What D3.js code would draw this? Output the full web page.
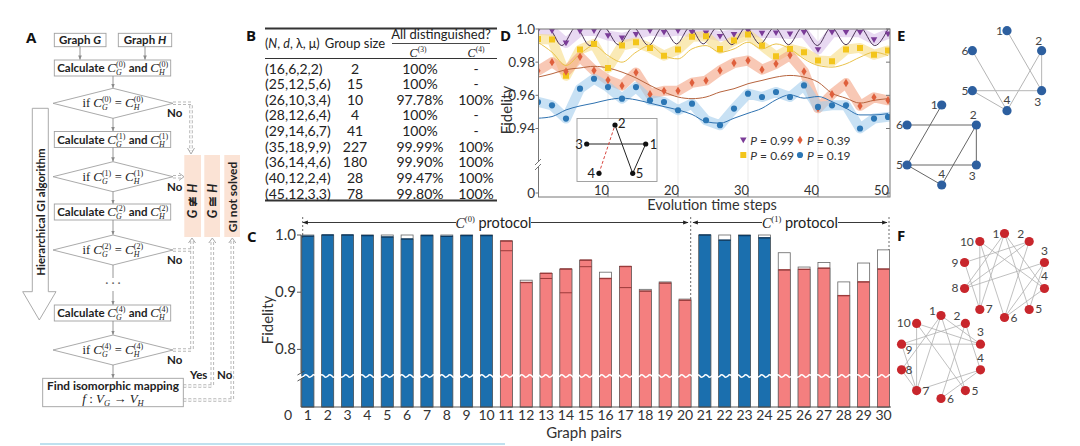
<!DOCTYPE html>
<html><head><meta charset="utf-8">
<script src="https://cdn.jsdelivr.net/npm/d3@7"></script>
<style>
html,body{margin:0;padding:0;background:#fff;}
svg{display:block;}
</style></head><body>
<svg id="fig" width="1080" height="446"></svg>
<script>
// ================= DATA =================
// Panel B table
const tableParams = ["(16,6,2,2)","(25,12,5,6)","(26,10,3,4)","(28,12,6,4)","(29,14,6,7)","(35,18,9,9)","(36,14,4,6)","(40,12,2,4)","(45,12,3,3)"];
const tableGroupSize = ["2","15","10","4","41","227","180","28","78"];
const tableC3 = ["100%","100%","97.78%","100%","100%","99.99%","99.90%","99.47%","99.80%"];
const tableC4 = ["-","-","100%","-","-","100%","100%","100%","100%"];

// Panel C bars
const graphPairs = [1,2,3,4,5,6,7,8,9,10,11,12,13,14,15,16,17,18,19,20,21,22,23,24,25,26,27,28,29,30];
const pairIsomorphic = [1,1,1,1,1,1,1,1,1,1, 0,0,0,0,0,0,0,0,0,0, 1,1,1,1, 0,0,0,0,0,0];
const fidelityExp = [0.998,1.0,1.0,0.999,0.9965,0.993,0.999,0.9977,0.999,0.999,
  0.9895,0.917,0.933,0.9405,0.956,0.924,0.945,0.902,0.916,0.886,
  1.0,0.991,0.999,0.995, 0.939,0.940,0.942,0.894,0.918,0.9405];
const fidelityTheory = [1.0,1.0,1.0,1.0,1.0,1.0,1.0,1.0,1.0,1.0,
  0.9725,0.921,0.924,0.899,0.9446,0.935,0.908,0.905,0.918,0.888,
  1.0,1.0,1.0,1.0, 0.969,0.944,0.952,0.918,0.951,0.974];
const xTickLabelsC = [0,1,2,3,4,5,6,7,8,9,10,11,12,13,14,15,16,17,18,19,20,21,22,23,24,25,26,27,28,29,30];
const yTicksC = [0.8, 0.9, 1.0];

// Panel D
const timeSteps = [0,2,4,6,8,10,12,14,16,18,20,22,24,26,28,30,32,34,36,38,40,42,44,46,48,50];
const fidP99 = [0.9995,0.999,0.9916,0.9987,0.999,0.996,0.9947,0.9967,0.999,0.998,0.999,0.998,0.9977,0.9956,0.9967,0.999,0.9975,0.9977,0.997,0.998,0.9876,0.998,0.998,0.998,0.9936,0.997];
const fidP69 = [0.994,0.9936,0.9718,0.9876,0.991,0.9765,0.990,0.992,0.9886,0.9839,0.9876,0.9953,0.9956,0.988,0.993,0.9967,0.990,0.9835,0.988,0.986,0.981,0.9805,0.9876,0.9886,0.9845,0.987];
const fidP39 = [0.9748,0.980,0.9744,0.9832,0.975,0.9692,0.9658,0.9738,0.9607,0.9627,0.9627,0.9676,0.9689,0.975,0.9795,0.981,0.9755,0.979,0.9842,0.9744,0.9522,0.9607,0.9674,0.9536,0.9588,0.957];
const fidP19 = [0.956,0.954,0.946,0.964,0.970,0.965,0.958,0.965,0.957,0.956,0.951,0.955,0.945,0.942,0.952,0.961,0.959,0.962,0.959,0.966,0.953,0.954,0.954,0.940,0.946,0.947];
const theoryP99T = [0,1.4,3.4,5.4,7.4,9.4,11.5,13.6,15.8,17.8,19.8,21.7,23.6,25.6,27.7,29.7,31.7,33.8,35.8,37.8,39.9,41.9,44.0,46.0,48.1,50];
const theoryP99V = [1.001,1.001,0.990,1.001,0.990,1.001,0.9905,1.001,0.990,1.001,0.991,1.001,0.991,1.001,0.9905,1.001,0.991,1.001,0.9905,1.001,0.990,1.001,0.9905,1.001,0.990,1.0];
const theoryP69 = [0.992,0.986,0.978,0.985,0.990,0.984,0.980,0.986,0.990,0.984,0.982,0.988,0.990,0.986,0.988,0.992,0.988,0.991,0.988,0.982,0.978,0.977,0.979,0.983,0.986,0.984];
const theoryP39 = [0.971,0.973,0.9755,0.9765,0.9775,0.9765,0.974,0.9705,0.966,0.962,0.959,0.958,0.959,0.962,0.964,0.967,0.969,0.971,0.972,0.971,0.968,0.9613,0.9583,0.9553,0.957,0.958];
const theoryP19 = [0.9462,0.9472,0.9512,0.9536,0.9553,0.9573,0.9583,0.9573,0.9553,0.9532,0.9512,0.9485,0.9441,0.9432,0.9462,0.9492,0.9522,0.9573,0.9603,0.9583,0.9593,0.9562,0.9522,0.9482,0.9482,0.949];
const yTicksD = [0, 0.94, 0.96, 0.98, 1.0];
const xTicksD = [10, 20, 30, 40, 50];
const legendD = ["P = 0.99","P = 0.39","P = 0.69","P = 0.19"];

// Panels E / F graphs (node labels 1..n, edges)
const graphE1Edges = [[1,3],[6,4],[2,3],[2,4],[5,3],[5,4]];
const graphE2Edges = [[1,5],[6,2],[2,3],[2,4],[5,3],[5,4]];
const graphF1Edges = [[1,7],[1,8],[1,4],[1,5],[10,7],[10,6],[10,4],[2,8],[2,6],[2,9],[8,3],[3,6],[4,6],[9,7],[5,3]];
const graphF2Edges = [[1,7],[1,8],[1,3],[1,5],[10,7],[10,5],[2,9],[2,6],[9,3],[3,10],[4,7],[4,6],[8,7],[9,7],[2,4]];

// ================= HELPERS =================
const svg = d3.select('#fig');
const SANS = 'Lato, "Open Sans", sans-serif';
const SERIF = '"Liberation Serif", "DejaVu Serif", serif';
const defs = svg.append('defs');
defs.append('marker').attr('id','ahg').attr('viewBox','0 0 10 10').attr('refX',9).attr('refY',5)
  .attr('markerWidth',5).attr('markerHeight',5).attr('orient','auto')
  .append('path').attr('d','M0,1 L10,5 L0,9 Z').attr('fill','#8a8a8a');
defs.append('marker').attr('id','ahk').attr('viewBox','0 0 10 10').attr('refX',9).attr('refY',5)
  .attr('markerWidth',6).attr('markerHeight',6).attr('orient','auto-start-reverse')
  .append('path').attr('d','M0,1.5 L10,5 L0,8.5 Z').attr('fill','#222');

function rich(parent, x, y, segs, opt={}) {
  const g = parent.append('g');
  let cx = 0;
  const put = (p, px) => {
    const t = g.append('text').attr('x', px).attr('y', p.dy || 0)
      .attr('font-family', p.serif ? SERIF : SANS)
      .attr('font-size', p.size || opt.size || 12)
      .attr('font-weight', (p.bold ?? opt.bold) ? 'bold' : 'normal')
      .attr('font-style', p.it ? 'italic' : 'normal')
      .attr('fill', p.fill || opt.fill || '#222')
      .text(p.t.replace(/ /g, '\u00a0'));
    return t.node().getComputedTextLength();
  };
  segs.forEach(s => {
    if (s.stack) { let w = 0; s.stack.forEach(p => { w = Math.max(w, put(p, cx)); }); cx += w + (s.pad || 0); }
    else cx += put(s, cx);
  });
  const a = opt.anchor || 'start';
  const off = a === 'middle' ? -cx/2 : a === 'end' ? -cx : 0;
  g.attr('transform', `translate(${x},${y}) rotate(${opt.rotate||0}) translate(${off},0)`);
  return g;
}
function Cm(sub, k, big=13, small=8) {
  return [{t:'C', serif:true, it:true, size:big, bold:false},
          {stack:[{t:'('+k+')', serif:true, size:small, dy:-5, bold:false},
                  {t:sub, serif:true, it:true, size:small, dy:3, bold:false}], pad:0.5}];
}
function label(x, y, t) {
  svg.append('text').attr('x',x).attr('y',y).attr('font-family','"Open Sans", sans-serif')
    .attr('font-weight','bold').attr('font-size',15).attr('fill','#111').text(t);
}

// ================= PANEL A =================
const gA = svg.append('g');
const fcS = '#a0a0a0';
const rbox = (x,y,w,h) => gA.append('rect').attr('x',x).attr('y',y).attr('width',w).attr('height',h)
  .attr('fill','#fff').attr('stroke',fcS).attr('stroke-width',0.9);
const arr = (x1,y1,x2,y2) => gA.append('line').attr('x1',x1).attr('y1',y1).attr('x2',x2).attr('y2',y2)
  .attr('stroke','#8a8a8a').attr('stroke-width',0.9).attr('marker-end','url(#ahg)');
const dia = (cx,cy,hw,hh) => gA.append('polygon')
  .attr('points',`${cx-hw},${cy} ${cx},${cy-hh} ${cx+hw},${cy} ${cx},${cy+hh}`)
  .attr('fill','#fff').attr('stroke',fcS).attr('stroke-width',0.9);

// hierarchical hollow arrow
gA.append('polygon').attr('points','32.3,108.3 48.3,108.3 48.3,291.7 56,291.7 39.3,320 22.7,291.7 32.3,291.7')
  .attr('fill','#fff').attr('stroke',fcS).attr('stroke-width',0.9);
rich(gA, 44.5, 212, [{t:'Hierarchical GI algorithm'}], {anchor:'middle', rotate:-90, size:11.5, bold:true});

// peach result boxes
[[184.3,16.7],[204.3,15.7],[224.3,15.7]].forEach(([x,w]) =>
  gA.append('rect').attr('x',x).attr('y',155).attr('width',w).attr('height',82).attr('fill','#fbe3d5'));

// dashed double connectors
const conn = ['M173,103.3H191V151','M173,176.7H182','M173,250H192V240','M173,350H192V250',
              'M183.3,386H212.3V240','M183.3,400H232.3V240'];
conn.forEach(d => {
  gA.append('path').attr('d',d).attr('fill','none').attr('stroke','#b8b8b8').attr('stroke-width',3.6).attr('stroke-dasharray','3,2');
  gA.append('path').attr('d',d).attr('fill','none').attr('stroke','#fff').attr('stroke-width',1.6).attr('stroke-dasharray','3,2');
});
['M187.5,148L191,154L194.5,148','M179,173L184,176.7L179,180.4','M188.5,243L192,238L195.5,243',
 'M208.8,243L212.3,238L215.8,243','M228.8,243L232.3,238L235.8,243'].forEach(d =>
  gA.append('path').attr('d',d).attr('fill','none').attr('stroke','#aaa').attr('stroke-width',1));

rich(gA, 197, 201, [{t:'G',it:true},{t:' ≇ '},{t:'H',it:true}], {anchor:'middle', rotate:-90, size:12.5, bold:true});
rich(gA, 216.5, 201, [{t:'G',it:true},{t:' ≅ '},{t:'H',it:true}], {anchor:'middle', rotate:-90, size:12.5, bold:true});
rich(gA, 236.5, 197, [{t:'GI not solved'}], {anchor:'middle', rotate:-90, size:12, bold:true});

// graph boxes
rbox(54.3,33.3,51.7,13.4); rbox(118.3,33.3,53.4,13.4);
rich(gA, 80, 44.2, [{t:'Graph '},{t:'G',it:true}], {anchor:'middle', size:11.5, bold:true});
rich(gA, 145, 44.2, [{t:'Graph '},{t:'H',it:true}], {anchor:'middle', size:11.5, bold:true});
arr(80,46.7,80,59.5); arr(145,46.7,145,59.5);

const calcY = [60, 131.5, 204, 305];
const diaY = [103.3, 176.7, 250, 350];
const levels = [0,1,2,4];
levels.forEach((k,i) => {
  rbox(54.3, calcY[i], 116.4, 16);
  rich(gA, 113, calcY[i]+12, [{t:'Calculate '}, ...Cm('G',k), {t:' and '}, ...Cm('H',k)], {anchor:'middle', size:11.5, bold:true});
  dia(113, diaY[i], 60, 15);
  rich(gA, 113, diaY[i]+4, [{t:'if ', serif:true, size:12.5}, ...Cm('G',k), {t:' = ', serif:true, size:12.5}, ...Cm('H',k)], {anchor:'middle'});
  gA.append('text').attr('x',167).attr('y',diaY[i]+14).attr('font-family',SANS).attr('font-weight','bold')
    .attr('font-size',11.5).attr('fill','#222').text('No');
});
arr(113,76,113,87.8); arr(113,118.3,113,131); arr(113,147.5,113,161.3); arr(113,191.7,113,203.6);
arr(113,220,113,234.6); arr(113,321,113,334.6); arr(113,365,113,377.8);
gA.append('line').attr('x1',113).attr('y1',265).attr('x2',113).attr('y2',278).attr('stroke','#8a8a8a').attr('stroke-width',0.9);
arr(113,291,113,304.6);
gA.append('text').attr('x',113).attr('y',287).attr('text-anchor','middle').attr('font-family',SANS)
  .attr('font-size',12).attr('fill','#666').text('· · ·');
rbox(42.7, 378.3, 140.6, 28.4);
rich(gA, 113, 389.5, [{t:'Find isomorphic mapping'}], {anchor:'middle', size:11.8, bold:true});
rich(gA, 113, 403, [{t:'f',serif:true,it:true,size:13},{t:' : ',serif:true,size:13},{t:'V',serif:true,it:true,size:13},
  {t:'G',serif:true,it:true,size:8.5,dy:3},{t:' → ',serif:true,size:13},{t:'V',serif:true,it:true,size:13},
  {t:'H',serif:true,it:true,size:8.5,dy:3}], {anchor:'middle'});
gA.append('text').attr('x',190).attr('y',379).attr('font-family',SANS).attr('font-weight','bold').attr('font-size',11.5).attr('fill','#222').text('Yes');
gA.append('text').attr('x',217).attr('y',379).attr('font-family',SANS).attr('font-weight','bold').attr('font-size',11.5).attr('fill','#222').text('No');
svg.append('line').attr('x1',40).attr('y1',444).attr('x2',505).attr('y2',444).attr('stroke','#bfe1ef').attr('stroke-width',2);
label(26, 43, 'A');

// ================= PANEL B =================
const gB = svg.append('g');
const tL = 265, tR = 497;
gB.append('line').attr('x1',tL).attr('x2',tR).attr('y1',28.5).attr('y2',28.5).attr('stroke','#333').attr('stroke-width',1.8);
gB.append('line').attr('x1',tL).attr('x2',tR).attr('y1',58.5).attr('y2',58.5).attr('stroke','#333').attr('stroke-width',1);
gB.append('line').attr('x1',tL).attr('x2',tR).attr('y1',200.5).attr('y2',200.5).attr('stroke','#333').attr('stroke-width',1.8);
gB.append('line').attr('x1',392).attr('x2',490).attr('y1',43.5).attr('y2',43.5).attr('stroke','#333').attr('stroke-width',0.9);
rich(gB, tL, 47.5, [{t:'('},{t:'N',it:true},{t:', '},{t:'d',it:true},{t:', λ, μ)'}], {size:12.5});
rich(gB, 355, 47.5, [{t:'Group size'}], {anchor:'middle', size:13});
rich(gB, 441, 39, [{t:'All distinguished?'}], {anchor:'middle', size:13});
rich(gB, 418, 56.5, [{t:'C',serif:true,it:true,size:12},{t:'(3)',serif:true,size:7.5,dy:-5}], {anchor:'middle'});
rich(gB, 476, 56.5, [{t:'C',serif:true,it:true,size:12},{t:'(4)',serif:true,size:7.5,dy:-5}], {anchor:'middle'});
const rowY = d3.scalePoint().domain(tableParams).range([68.5, 193.5]);
const tFont = 14;
tableParams.forEach((p,i) => {
  const y = rowY(p) + 5;
  gB.append('text').attr('x',tL).attr('y',y).attr('font-family',SANS).attr('font-size',tFont).attr('fill','#222').text(p);
  gB.append('text').attr('x',355).attr('y',y).attr('text-anchor','middle').attr('font-family',SANS).attr('font-size',tFont).attr('fill','#222').text(tableGroupSize[i]);
  gB.append('text').attr('x',420).attr('y',y).attr('text-anchor','middle').attr('font-family',SANS).attr('font-size',tFont).attr('fill','#222').text(tableC3[i]);
  gB.append('text').attr('x',476).attr('y',y).attr('text-anchor','middle').attr('font-family',SANS).attr('font-size',tFont).attr('fill','#222').text(tableC4[i]);
});
label(246, 41, 'B');

// ================= PANEL C =================
const gC = svg.append('g');
const xC = d3.scaleLinear().domain([0,30]).range([288, 883.5]);
const yC = d3.scaleLinear().domain([0, 0.75, 1.0]).range([407, 378, 235]);
const bw = 12;
const colFill = d => d ? '#1b6fae' : '#f47f7f';
const colLine = d => d ? '#0b3a63' : '#9c3a3a';
graphPairs.forEach((p,i) => {
  const iso = pairIsomorphic[i], e = fidelityExp[i], th = fidelityTheory[i];
  const x0 = xC(p) - bw/2;
  gC.append('rect').attr('x',x0).attr('y',yC(Math.max(e,th))).attr('width',bw).attr('height',yC(0)-yC(Math.max(e,th)))
    .attr('fill','#fff').attr('stroke','#666').attr('stroke-width',0.8);
  gC.append('rect').attr('x',x0).attr('y',yC(e)).attr('width',bw).attr('height',yC(0)-yC(e))
    .attr('fill',colFill(iso)).attr('stroke','#555').attr('stroke-width',0.6);
  gC.append('line').attr('x1',x0).attr('x2',x0+bw).attr('y1',yC(e)).attr('y2',yC(e)).attr('stroke',colLine(iso)).attr('stroke-width',1.4);
  if (th < e - 0.002) gC.append('line').attr('x1',x0).attr('x2',x0+bw).attr('y1',yC(th)).attr('y2',yC(th)).attr('stroke',colLine(iso)).attr('stroke-width',1);
});
// break wave across bars
{
  let d = 'M300,376';
  for (let x = 300; x < 892; x += 4) d += ` Q${x+1},${x%8===0?373.5:378.5} ${x+4},376`;
  gC.append('path').attr('d',d).attr('fill','none').attr('stroke','#fff').attr('stroke-width',1.6);
}
// axes
gC.append('line').attr('x1',301).attr('x2',301).attr('y1',235).attr('y2',372.5).attr('stroke','#444').attr('stroke-width',0.9);
gC.append('line').attr('x1',301).attr('x2',301).attr('y1',379.5).attr('y2',407).attr('stroke','#444').attr('stroke-width',0.9);
gC.append('path').attr('d','M297.5,375 L304.5,371 M297.5,381 L304.5,377').attr('stroke','#444').attr('stroke-width',0.9);
gC.append('line').attr('x1',301).attr('x2',891).attr('y1',407).attr('y2',407).attr('stroke','#444').attr('stroke-width',0.9);
yTicksC.forEach(v => {
  gC.append('line').attr('x1',297).attr('x2',301).attr('y1',yC(v)).attr('y2',yC(v)).attr('stroke','#444').attr('stroke-width',0.9);
  gC.append('text').attr('x',296).attr('y',yC(v)+5).attr('text-anchor','end').attr('font-family',SANS).attr('font-size',15).attr('fill','#333').text(v.toFixed(1));
});
xTickLabelsC.forEach(v => {
  gC.append('text').attr('x',xC(v)).attr('y',420).attr('text-anchor','middle').attr('font-family',SANS).attr('font-size',14).attr('fill','#333').text(v);
});
gC.append('text').attr('transform','translate(273,320) rotate(-90)').attr('text-anchor','middle').attr('font-family',SANS).attr('font-size',15).attr('fill','#333').text('Fidelity');
gC.append('text').attr('x',584).attr('y',438).attr('text-anchor','middle').attr('font-family',SANS).attr('font-size',15).attr('fill','#333').text('Graph pairs');
// protocol annotations
gC.append('line').attr('x1',303).attr('x2',456).attr('y1',222.5).attr('y2',222.5).attr('stroke','#222').attr('stroke-width',0.9).attr('marker-start','url(#ahk)');
gC.append('line').attr('x1',531).attr('x2',688).attr('y1',222.5).attr('y2',222.5).attr('stroke','#222').attr('stroke-width',0.9).attr('marker-end','url(#ahk)');
rich(gC, 493.5, 227.5, [{t:'C',serif:true,it:true,size:14},{t:'(0)',serif:true,size:8.5,dy:-6},{t:' protocol',size:14.5}], {anchor:'middle'});
gC.append('line').attr('x1',693).attr('x2',762).attr('y1',222.5).attr('y2',222.5).attr('stroke','#222').attr('stroke-width',0.9).attr('marker-start','url(#ahk)');
gC.append('line').attr('x1',838).attr('x2',887).attr('y1',222.5).attr('y2',222.5).attr('stroke','#222').attr('stroke-width',0.9).attr('marker-end','url(#ahk)');
rich(gC, 800, 227.5, [{t:'C',serif:true,it:true,size:14},{t:'(1)',serif:true,size:8.5,dy:-6},{t:' protocol',size:14.5}], {anchor:'middle'});
[[302.7,217,238],[690.7,217,300],[889,217,250]].forEach(([x,a,b]) =>
  gC.append('line').attr('x1',x).attr('x2',x).attr('y1',a).attr('y2',b).attr('stroke','#444').attr('stroke-width',0.8).attr('stroke-dasharray','2,2'));
label(247, 242, 'C');

// ================= PANEL D =================
const gD = svg.append('g');
const xD = d3.scaleLinear().domain([0,50]).range([538, 888]);
const yD = d3.scaleLinear().domain([0, 0.918, 1.0]).range([193, 165, 29]);
const pL = 538.5, pR = 890, pT = 29, pB = 197;
defs.append('clipPath').attr('id','clipD').append('rect').attr('x',pL).attr('y',pT).attr('width',pR-pL).attr('height',pB-pT);
xTicksD.slice(0,4).forEach(t => gD.append('line').attr('x1',xD(t)).attr('x2',xD(t)).attr('y1',pT).attr('y2',pB).attr('stroke','#e3e3e3').attr('stroke-width',0.8));
const gData = gD.append('g').attr('clip-path','url(#clipD)');
const series = [
  {v:fidP99, th:theoryP99V, thT:theoryP99T, band:'#d9bfe9', mk:'#7b3c98', line:'#4b3457', sym:'tri'},
  {v:fidP69, th:theoryP69, thT:timeSteps, band:'#f6dc86', mk:'#f3c51b', line:'#e9c24a', sym:'sq'},
  {v:fidP39, th:theoryP39, thT:timeSteps, band:'#f4a384', mk:'#df5f3c', line:'#b6643e', sym:'dia'},
  {v:fidP19, th:theoryP19, thT:timeSteps, band:'#a3cdec', mk:'#2c77b5', line:'#2f72b0', sym:'circ'}
];
const lineGen = d3.line().x(d => xD(d[0])).y(d => yD(d[1]));
series.forEach(s => {
  gData.append('path').attr('d', lineGen.curve(d3.curveLinear)(timeSteps.map((t,i)=>[t,s.v[i]])))
    .attr('fill','none').attr('stroke',s.band).attr('stroke-width',10).attr('stroke-linejoin','round').attr('stroke-linecap','round').attr('opacity',0.6);
});
series.forEach(s => {
  gData.append('path').attr('d', lineGen.curve(d3.curveMonotoneX)(s.thT.map((t,i)=>[t,s.th[i]])))
    .attr('fill','none').attr('stroke',s.line).attr('stroke-width',1);
});
const symPath = {
  tri: 'M-3.3,-2.4 L3.3,-2.4 L0,3.3 Z',
  sq: 'M-3,-3 H3 V3 H-3 Z',
  dia: 'M0,-4.2 L2.6,0 L0,4.2 L-2.6,0 Z',
  circ: d3.symbol(d3.symbolCircle, 30)()
};
series.forEach(s => {
  timeSteps.forEach((t,i) => gData.append('path').attr('d',symPath[s.sym]).attr('transform',`translate(${xD(t)},${yD(s.v[i])})`).attr('fill',s.mk));
});
// frame
gD.append('rect').attr('x',pL).attr('y',pT).attr('width',pR-pL).attr('height',pB-pT).attr('fill','none').attr('stroke','#777').attr('stroke-width',1);
// break on left axis
gD.append('rect').attr('x',pL-3).attr('y',162).attr('width',6).attr('height',5).attr('fill','#fff');
gD.append('path').attr('d','M535,165 L541,159 M535,170 L541,164').attr('stroke','#666').attr('stroke-width',0.9);
yTicksD.forEach(v => {
  gD.append('line').attr('x1',pL-3).attr('x2',pL).attr('y1',yD(v)).attr('y2',yD(v)).attr('stroke','#777');
  gD.append('line').attr('x1',pR-4).attr('x2',pR).attr('y1',yD(v)).attr('y2',yD(v)).attr('stroke','#777');
  gD.append('text').attr('x',535).attr('y',yD(v)+4.5).attr('text-anchor','end').attr('font-family',SANS).attr('font-size',13.5).attr('fill','#333')
    .text(v === 0 ? '0' : v === 1 ? '1.0' : v.toFixed(2));
});
xTicksD.forEach(t => {
  gD.append('line').attr('x1',xD(t)).attr('x2',xD(t)).attr('y1',pB-4).attr('y2',pB).attr('stroke','#777');
  gD.append('text').attr('x',xD(t)+1).attr('y',194.5).attr('text-anchor','end').attr('font-family',SANS).attr('font-size',13).attr('fill','#333').text(t);
});
gD.append('text').attr('transform','translate(512,110) rotate(-90)').attr('text-anchor','middle').attr('font-family',SANS).attr('font-size',15).attr('fill','#333').text('Fidelity');
gD.append('text').attr('x',712).attr('y',210).attr('text-anchor','middle').attr('font-family',SANS).attr('font-size',14.5).attr('fill','#333').text('Evolution time steps');
// inset
gD.append('rect').attr('x',577).attr('y',118.5).attr('width',80).attr('height',63).attr('fill','#fff').attr('stroke','#999').attr('stroke-width',0.9);
const ins = {1:[645.7,144],2:[615,125],3:[586.7,144],4:[599,173.3],5:[632.7,173.3]};
[[3,1],[2,5],[5,1]].forEach(([a,b]) => gD.append('line').attr('x1',ins[a][0]).attr('y1',ins[a][1]).attr('x2',ins[b][0]).attr('y2',ins[b][1]).attr('stroke','#222').attr('stroke-width',1));
gD.append('line').attr('x1',ins[4][0]).attr('y1',ins[4][1]).attr('x2',ins[2][0]).attr('y2',ins[2][1]).attr('stroke','#d9463f').attr('stroke-width',1).attr('stroke-dasharray','3,2');
Object.entries(ins).forEach(([k,[x,y]]) => gD.append('circle').attr('cx',x).attr('cy',y).attr('r',2.6).attr('fill','#111'));
const insLab = {1:[4,5,'start'],2:[3,3,'start'],3:[-4,5,'end'],4:[-4,5,'end'],5:[3,5,'start']};
Object.entries(insLab).forEach(([k,[dx,dy,a]]) => gD.append('text').attr('x',ins[k][0]+dx).attr('y',ins[k][1]+dy).attr('text-anchor',a)
  .attr('font-family',SANS).attr('font-size',13).attr('fill','#222').text(k));
// legend
const legPos = [[743.3,140],[800,140],[743.3,155],[800,155]];
const legSeries = [series[0], series[2], series[1], series[3]];
legendD.forEach((txt,i) => {
  const [lx,ly] = legPos[i];
  gD.append('path').attr('d',symPath[legSeries[i].sym]).attr('transform',`translate(${lx},${ly})`).attr('fill',legSeries[i].mk);
  const parts = txt.split(' ');
  rich(gD, lx+7, ly+4.5, [{t:parts[0],it:true},{t:' '+parts.slice(1).join(' ')}], {size:12, fill:'#333'});
});
label(500, 41, 'D');

// ================= PANELS E, F =================
function drawGraph(cx, cy, r, n, edges, col, edgeCol, edgeW, labOff) {
  const g = svg.append('g');
  const pos = k => { const a = (-90 + 360/n*(k-1)) * Math.PI/180; return [cx + r*Math.cos(a), cy + r*Math.sin(a)]; };
  edges.forEach(([a,b]) => {
    const [x1,y1] = pos(a), [x2,y2] = pos(b);
    g.append('line').attr('x1',x1).attr('y1',y1).attr('x2',x2).attr('y2',y2).attr('stroke',edgeCol).attr('stroke-width',edgeW);
  });
  for (let k = 1; k <= n; k++) {
    const [x,y] = pos(k);
    g.append('circle').attr('cx',x).attr('cy',y).attr('r',4.6).attr('fill',col);
    const [dx,dy,anc] = labOff[k-1];
    g.append('text').attr('x',x+dx).attr('y',y+dy).attr('text-anchor',anc).attr('font-family',SANS).attr('font-size',12).attr('fill','#444').text(k);
  }
}
const labE = [[-4,4,'end'],[-3,-6,'middle'],[-4,15,'middle'],[0,-7,'middle'],[-4,4,'end'],[-4,4,'end']];
drawGraph(1007, 70.7, 40, 6, graphE1Edges, '#2d5f9f', '#b5b5b5', 1, labE);
drawGraph(941.7, 145, 40, 6, graphE2Edges, '#2d5f9f', '#666', 1, labE);
label(897, 41, 'E');
const labF1 = [[-5,4,'end'],[-5,-4,'end'],[0,-8,'middle'],[0,-8,'middle'],[6,4,'start'],[6,4,'start'],[6,4,'start'],[-6,4,'end'],[-6,4,'end'],[-6,4,'end']];
const labF2 = [[-5,-1,'end'],[-5,-3,'end'],[0,-8,'middle'],[0,-8,'middle'],[6,4,'start'],[6,4,'start'],[6,4,'start'],[4,4,'start'],[4,10,'start'],[-6,4,'end']];
drawGraph(1004.5, 275.5, 42, 10, graphF1Edges, '#c8262c', '#b0b0b0', 0.8, labF1);
drawGraph(941, 357, 41.5, 10, graphF2Edges, '#c8262c', '#b0b0b0', 0.8, labF2);
label(897, 241, 'F');
</script></body></html>
